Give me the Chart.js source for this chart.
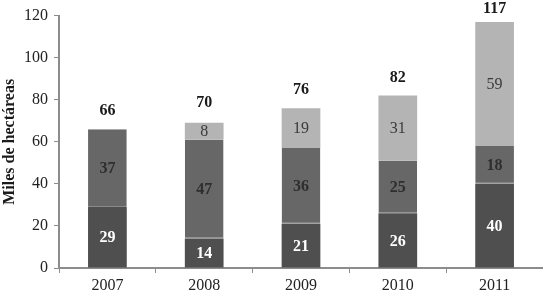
<!DOCTYPE html>
<html>
<head>
<meta charset="utf-8">
<script src="https://cdn.jsdelivr.net/npm/chart.js@4"></script>
<style>
  body { margin: 0; background: #fff; }
</style>
</head>
<body>
<canvas id="c" width="543" height="300"></canvas>
<script>
const years = ["2007", "2008", "2009", "2010", "2011"];
const bottomVals = [29, 14, 21, 26, 40];
const middleVals = [37, 47, 36, 25, 18];
const topVals = [0, 8, 19, 31, 59];
const totals = [66, 70, 76, 82, 117];
const yTicks = [0, 20, 40, 60, 80, 100, 120];

const serif = "'Liberation Serif', 'Times New Roman', serif";

// writes the segment values and the totals
const labelPlugin = {
  id: "labels",
  afterDatasetsDraw(chart) {
    const ctx = chart.ctx;
    ctx.save();
    ctx.textAlign = "center";
    ctx.textBaseline = "middle";
    const styles = [
      { color: "#ffffff", weight: "bold" },
      { color: "#2e2e2e", weight: "bold" },
      { color: "#3a3a3a", weight: "normal" }
    ];
    chart.data.datasets.forEach((ds, i) => {
      const meta = chart.getDatasetMeta(i);
      meta.data.forEach((bar, j) => {
        if (!ds.data[j]) return;
        const mid = (bar.y + bar.base) / 2;
        ctx.font = styles[i].weight + " 16px " + serif;
        ctx.fillStyle = styles[i].color;
        ctx.fillText(ds.data[j], bar.x, mid + 1);
      });
    });
    const yScale = chart.scales.y;
    const xMeta = chart.getDatasetMeta(0);
    ctx.font = "bold 16px " + serif;
    ctx.fillStyle = "#1a1a1a";
    totals.forEach((t, j) => {
      const y = Math.max(9, yScale.getPixelForValue(t) - 18);
      ctx.fillText(t, xMeta.data[j].x, y);
    });
    ctx.restore();
  }
};

new Chart(document.getElementById("c"), {
  type: "bar",
  data: {
    labels: years,
    datasets: [
      { data: bottomVals, backgroundColor: "#4f4f4f" },
      { data: middleVals, backgroundColor: "#676767", borderColor: "#8a8a8a", borderWidth: { bottom: 1 }, borderSkipped: false },
      { data: topVals, backgroundColor: "#b4b4b4" }
    ]
  },
  options: {
    responsive: false,
    animation: false,
    layout: { padding: { top: 7, right: 0, left: 0, bottom: 0 } },
    plugins: { legend: { display: false }, tooltip: { enabled: false } },
    datasets: { bar: { barPercentage: 0.8, categoryPercentage: 0.5 } },
    scales: {
      x: {
        stacked: true,
        grid: { display: true, drawOnChartArea: false, color: "#8c8c8c", tickLength: 5, offset: true },
        border: { color: "#8c8c8c", width: 2 },
        ticks: { color: "#222", font: { family: serif, size: 16 }, padding: 3 },
        afterFit: s => { s.height = 32; }
      },
      y: {
        stacked: true,
        min: 0,
        max: 120,
        afterBuildTicks: s => { s.ticks = yTicks.map(v => ({ value: v })); },
        grid: { display: true, drawOnChartArea: false, color: "#8c8c8c", tickLength: 5 },
        border: { color: "#8c8c8c", width: 2 },
        ticks: { color: "#222", font: { family: serif, size: 16 }, padding: 6 },
        title: { display: true, text: "Miles de hectáreas", color: "#1a1a1a", font: { family: serif, size: 16, weight: "bold" }, padding: 0 },
        afterFit: s => { s.width = 59; }
      }
    }
  },
  plugins: [labelPlugin]
});
</script>
</body>
</html>
